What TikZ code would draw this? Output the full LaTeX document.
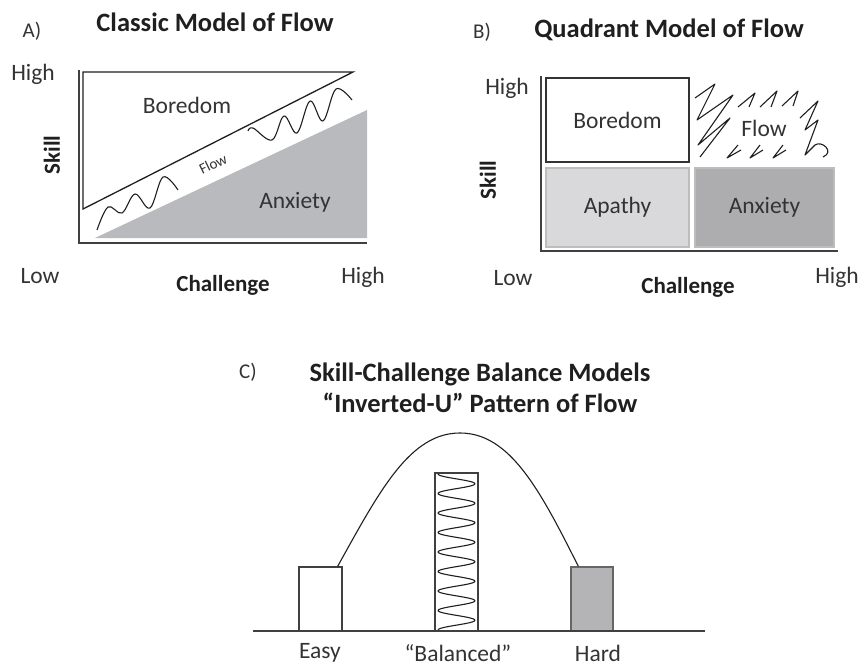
\documentclass[tikz,border=0pt]{standalone}
\usepackage{fontspec}
\setmainfont{Carlito}
\usetikzlibrary{positioning}
\definecolor{txtgray}{HTML}{333333}
\definecolor{anxA}{HTML}{B9BABD}
\definecolor{apathy}{HTML}{D9D9DB}
\definecolor{anxB}{HTML}{ADADB0}
\definecolor{hardgray}{HTML}{B4B4B7}
\definecolor{edgegray}{HTML}{BDBDBD}

\tikzset{
  lbl/.style={text=txtgray,font=\fontsize{23.5}{28}\selectfont,inner sep=0pt},
  ttl/.style={text=black!88,font=\fontsize{26.5}{31}\selectfont\bfseries,inner sep=0pt},
  axl/.style={text=black!88,font=\fontsize{23}{27}\selectfont\bfseries,inner sep=0pt},
  tag/.style={text=txtgray,font=\fontsize{21}{25}\selectfont,inner sep=0pt},
  axis/.style={draw=black!75,line width=1.3},
  ln/.style={draw=black!88,line width=1.3},
  wave/.style={draw=black!88,line width=1.1,line join=round},
  box/.style={line width=1.3,inner sep=0pt,text=txtgray,font=\fontsize{23.5}{28}\selectfont},
}

\begin{document}
\begin{tikzpicture}[x=1pt,y=-1pt]
\useasboundingbox (0,0) rectangle (860,666);

% A) classic model
\node[tag] (tagA) at (32,31) {A)};
\node[ttl] (ttlA) at (215,22) {Classic Model of Flow};
\draw[axis] (79,70) -- (79,243) -- (367,243);
\fill[anxA] (95,238) -- (367,110) -- (367,238) -- cycle;
\draw[ln] (353,72) -- (83,72) -- (83,209) -- cycle;
\draw[wave] plot[smooth,tension=0.6] coordinates {(97,230) (108,207) (122,213) (135,194) (150,208) (163,177) (178,190)};
\draw[wave] plot[smooth,tension=0.6] coordinates {(248,131) (253,128) (272,140) (284,116) (297,133) (310,101) (323,121) (336,89) (352,100)};
\node[lbl] (borA) at (187,105) {Boredom};
\node[lbl] (anxA) at (295,202) {Anxiety};
\node[lbl,font=\fontsize{15}{18}\selectfont,rotate=26] (flowA) at (213,164) {Flow};
\node[lbl] (hiA) at (33,74) {High};
\node[axl,rotate=90] (skA) at (52,155) {Skill};
\node[lbl] (loA) at (40,276) {Low};
\node[axl] (chA) at (223,285) {Challenge};
\node[lbl] (hxA) at (363,277) {High};

% B) quadrant model
\node[tag] (tagB) at (482,32) {B)};
\node[ttl] (ttlB) at (669,30) {Quadrant Model of Flow};
\draw[axis] (541,76) -- (541,251) -- (838,251);
\node[box,draw=black!80,minimum width=143,minimum height=84] (borB) at (617.5,120) {Boredom};
\node[box,draw=edgegray,fill=apathy,minimum width=143,minimum height=79] (apaB) at (617.5,207.5) {Apathy};
\node[box,draw=edgegray,fill=anxB,minimum width=139,minimum height=79] (anxB) at (764.5,207.5) {Anxiety};
\node[lbl] (flowB) at (764,128) {Flow};
% scribble round flow
\draw[wave] (695,98) -- (715,84) -- (697,120) -- (733,95) -- (698,145) -- (730,118) -- (700,157);
\draw[wave] (738,107) -- (755,93) -- (749,107);
\draw[wave] (760,107) -- (777,91) -- (771,107);
\draw[wave] (782,106) -- (798,91) -- (793,106);
\draw[wave] (800,118) -- (818,101) -- (805,130) -- (818,120) -- (805,155) -- (815,145) .. controls (822,140) and (835,152) .. (823,157);
\draw[wave] (738,145) -- (727,158) -- (741,150);
\draw[wave] (760,145) -- (750,158) -- (763,150);
\draw[wave] (783,145) -- (773,158) -- (786,150);
\node[lbl] (hiB) at (507,88) {High};
\node[axl,rotate=90] (skB) at (488,180) {Skill};
\node[lbl] (loB) at (513,278) {Low};
\node[axl] (chB) at (688,287) {Challenge};
\node[lbl] (hxB) at (837,277) {High};

% C) inverted-U
\node[tag] (tagC) at (248,372) {C)};
\node[ttl,align=center] (ttlC) at (480,387.5) {Skill-Challenge Balance Models\\“Inverted-U” Pattern of Flow};
\node[box,draw=black!75,fill=white,minimum width=43,minimum height=64] (easy) at (320.5,599) {};
\node[box,draw=black!75,fill=white,minimum width=43,minimum height=158] (bal) at (456.5,552) {};
\node[box,draw=black!60,fill=hardgray,minimum width=42,minimum height=64] (hard) at (592,599) {};
\draw[axis] (253,631) -- (705,631);
\draw[wave] plot[domain=0:1,samples=200,smooth] ({456.5-18.5*cos(360*8*\x)},{474+156*\x});
\draw[ln,line width=1.1] ([xshift=-5]easy.north east) .. controls (380,490) and (410,433) .. (460,433)
  .. controls (510,433) and (540,490) .. ([xshift=8]hard.north west);
\node[lbl] (easyL) at (320,653) {Easy};
\node[lbl] (balL) at (458,653) {“Balanced”};
\node[lbl] (hardL) at (598,653) {Hard};
\end{tikzpicture}
\end{document}
